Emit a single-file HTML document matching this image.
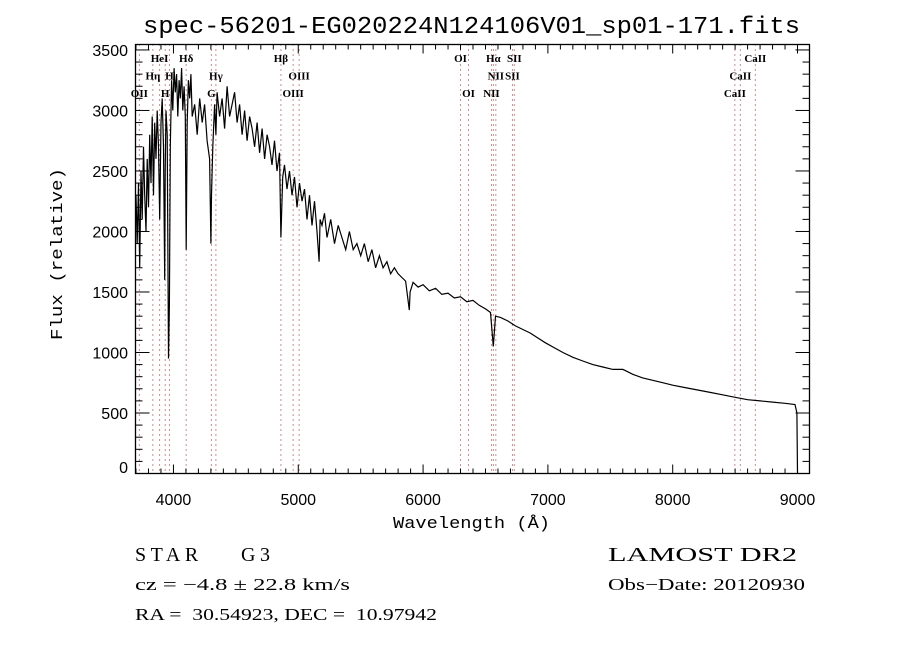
<!DOCTYPE html>
<html><head><meta charset="utf-8"><style>
body{margin:0;background:#fff;}
svg{display:block;font-family:"Liberation Serif",serif;}
.tk{stroke:#000;stroke-width:1;}
</style></head><body>
<svg id="chart" width="900" height="650" viewBox="0 0 900 650" xmlns="http://www.w3.org/2000/svg">
<rect width="900" height="650" fill="#fff"/>
<text x="143" y="33" font-family="Liberation Mono, monospace" font-size="24" textLength="657" lengthAdjust="spacingAndGlyphs">spec-56201-EG020224N124106V01_sp01-171.fits</text>
<g id="lines"></g>
<g id="labels" font-size="11" font-weight="bold"></g>
<path id="spec" fill="none" stroke="#000" stroke-width="1.2"/>
<rect x="135.5" y="44.5" width="674" height="429" fill="none" stroke="#000" stroke-width="1.3"/>
<g id="ticks"></g>
<g id="xlabels" font-family="Liberation Sans, sans-serif" font-size="16" text-anchor="middle"></g>
<g id="ylabels" font-family="Liberation Sans, sans-serif" font-size="16" text-anchor="end"></g>
<text x="393" y="528" font-family="Liberation Mono, monospace" font-size="17" textLength="157" lengthAdjust="spacingAndGlyphs">Wavelength (Å)</text>
<text transform="translate(62,340) rotate(-90)" font-family="Liberation Mono, monospace" font-size="17" textLength="172" lengthAdjust="spacingAndGlyphs">Flux (relative)</text>
<g font-size="17">
<text x="135" y="561" font-size="20" textLength="135" lengthAdjust="spacing">STAR&#160;&#160;&#160;&#160;G3</text>
<text x="135" y="590" textLength="215" lengthAdjust="spacingAndGlyphs">cz = −4.8 ± 22.8 km/s</text>
<text x="135" y="620" textLength="302" lengthAdjust="spacingAndGlyphs">RA =&#160;&#160;30.54923, DEC =&#160;&#160;10.97942</text>
<text x="608" y="561" font-size="20" textLength="189" lengthAdjust="spacingAndGlyphs">LAMOST DR2</text>
<text x="608" y="590" textLength="197" lengthAdjust="spacingAndGlyphs">Obs−Date: 20120930</text>
</g>
</svg>
<script>
const wave = [3700,3710,3720,3730,3740,3750,3760,3770,3780,3790,3800,3810,3820,3830,3840,3850,3860,3870,3880,3890,3900,3910,3920,3930,3934,3940,3950,3960,3968,3975,3985,3995,4005,4015,4025,4035,4045,4055,4065,4075,4085,4095,4102,4110,4120,4130,4140,4150,4170,4190,4210,4230,4250,4270,4290,4300,4305,4315,4330,4340,4350,4370,4390,4410,4430,4450,4470,4490,4510,4530,4550,4570,4590,4610,4630,4650,4670,4690,4710,4730,4750,4770,4790,4810,4830,4850,4861,4875,4890,4910,4930,4950,4970,4990,5010,5030,5050,5070,5090,5110,5130,5150,5167,5175,5190,5210,5230,5260,5290,5320,5350,5380,5410,5440,5470,5500,5530,5560,5590,5620,5650,5680,5710,5740,5770,5800,5830,5860,5890,5896,5920,5960,6000,6050,6100,6150,6200,6250,6300,6350,6400,6450,6500,6540,6563,6580,6620,6680,6740,6800,6860,6920,6980,7050,7120,7200,7280,7360,7440,7520,7600,7620,7680,7760,7840,7920,8000,8100,8200,8300,8400,8500,8600,8700,8800,8900,8980,8995,9000];
const flux = [2300,1900,2400,1700,2500,2100,2700,2300,2000,2600,2200,2800,2400,2950,2300,2900,2600,3000,2700,2100,2900,3100,2700,1600,2500,3000,2800,950,1400,2700,3250,3000,3350,3150,3300,2950,3250,3100,3350,3000,3200,2950,1850,2900,3250,3100,3300,2950,3050,2800,3100,2900,3050,2750,2600,1900,2300,2700,3050,2800,3150,2950,3100,2850,3200,2950,3050,3150,2900,3050,2800,3000,2750,2950,2850,2700,2900,2650,2850,2600,2800,2700,2550,2750,2500,2650,1950,2450,2550,2350,2500,2300,2450,2200,2400,2250,2350,2100,2300,2050,2250,2000,1750,2100,2050,2150,1950,2100,1900,2050,1950,1850,2000,1850,1900,1800,1900,1750,1850,1700,1800,1700,1750,1650,1700,1650,1620,1590,1350,1500,1580,1540,1560,1510,1530,1480,1490,1450,1460,1420,1430,1390,1360,1330,1050,1300,1290,1260,1220,1190,1160,1120,1080,1040,1000,960,930,900,880,860,860,850,820,790,770,750,730,710,690,670,650,630,610,600,590,580,570,500,0];
const xTicks = [4000,5000,6000,7000,8000,9000];
const yTicks = [0,500,1000,1500,2000,2500,3000,3500];
const lineWaves = [3727,3835,3889,3934,3968,4102,4304,4340,4861,4959,5007,6300,6364,6548,6563,6583,6716,6731,8498,8542,8662];
const labelText = ["HeI","Hδ","Hβ","OI","Hα","SII","CaII","Hη","H","Hγ","OIII","NII","SII","CaII","OII","H","G","OIII","OI","NII","CaII"];
const labelWave = [3889,4102,4861,6300,6563,6731,8662,3835,3968,4340,5007,6583,6716,8542,3727,3934,4304,4959,6364,6548,8498];
const labelRow = [0,0,0,0,0,0,0,1,1,1,1,1,1,1,2,2,2,2,2,2,2];

const X0=135.5,X1=809.5,Y0=473.5,Y1=44.5;
const xmin=3696, xmax=9096, ymin=0, ymax=3545;
const xs = w => X0 + (w-xmin)/(xmax-xmin)*(X1-X0);
const ys = f => Y0 - (f-ymin)/(ymax-ymin)*(Y0-Y1);
const NS="http://www.w3.org/2000/svg";
function mk(tag, parent, attrs){const e=document.createElementNS(NS,tag);for(const k in attrs)e.setAttribute(k,attrs[k]);parent.appendChild(e);return e;}

let d="";
for(let i=0;i<wave.length;i++){d+=(i?"L":"M")+xs(wave[i]).toFixed(1)+" "+ys(flux[i]).toFixed(1);}
document.getElementById("spec").setAttribute("d",d);

const lg=document.getElementById("lines");
lineWaves.forEach(w=>{
  const l=mk("line",lg,{x1:xs(w),x2:xs(w),y1:Y1,y2:Y0,stroke:"#8b2020","stroke-width":1,"stroke-dasharray":"1,4"});
  
  
});
const lb=document.getElementById("labels");
labelText.forEach((t,i)=>{
  const e=mk("text",lb,{x:xs(labelWave[i]),y:62+labelRow[i]*17.5,"text-anchor":"middle"});
  e.textContent=t;
  
  
});

const tg=document.getElementById("ticks");
for(let w=3700; w<=9000; w+=100){
  const major = w%1000===0;
  const len = major?9:5;
  mk("line",tg,{x1:xs(w),x2:xs(w),y1:Y0,y2:Y0-len,class:"tk"});
  mk("line",tg,{x1:xs(w),x2:xs(w),y1:Y1,y2:Y1+len,class:"tk"});
}
for(let f=100; f<=3500; f+=100){
  const major = f%500===0;
  const len = major?14:7;
  mk("line",tg,{x1:X0,x2:X0+len,y1:ys(f),y2:ys(f),class:"tk"});
  mk("line",tg,{x1:X1,x2:X1-len,y1:ys(f),y2:ys(f),class:"tk"});
}
const xl=document.getElementById("xlabels");
xTicks.forEach(v=>{
  const e=mk("text",xl,{x:xs(v),y:505});
  e.textContent=v;
  
  
});
const yl=document.getElementById("ylabels");
yTicks.forEach(v=>{
  const e=mk("text",yl,{x:128,y:Math.min(ys(v)+6,473)});
  e.textContent=v;
  
  
});
</script>
</body></html>
